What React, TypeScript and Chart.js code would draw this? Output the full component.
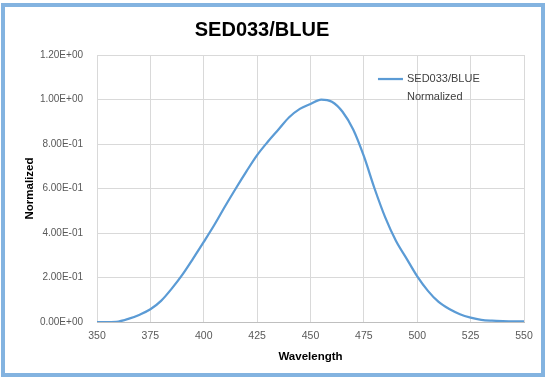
import React, { useEffect, useRef } from "react";
import { Chart, registerables } from "chart.js";

Chart.register(...registerables);

const chartTitle = "SED033/BLUE";
const xAxisTitle = "Wavelength";
const yAxisTitle = "Normalized";
const seriesLabel = ["SED033/BLUE", "Normalized"];

const wavelengths = [
  350, 355, 360, 365, 370, 375, 380, 385, 390, 395, 400, 405, 410, 415, 420,
  425, 430, 435, 440, 445, 450, 455, 460, 465, 470, 475, 480, 485, 490, 495,
  500, 505, 510, 515, 520, 525, 530, 535, 540, 545, 550,
];
const normalized = [
  0.0, 0.0, 0.002, 0.015, 0.033, 0.057, 0.095, 0.15, 0.213, 0.285, 0.36,
  0.437, 0.52, 0.6, 0.677, 0.75, 0.81, 0.865, 0.92, 0.958, 0.98, 1.0, 0.99,
  0.945, 0.865, 0.745, 0.6, 0.47, 0.365, 0.285, 0.205, 0.14, 0.09, 0.058,
  0.035, 0.02, 0.01, 0.006, 0.004, 0.003, 0.003,
];
const xMin = 350;
const xMax = 550;
const xStep = 25;
const yMin = 0;
const yMax = 1.2;
const yStep = 0.2;

const FONT = "'Liberation Sans', Arial, sans-serif";
const LINE_COLOR = "#5B9BD5";

function fmtExp(v: number): string {
  const s = Number(v).toExponential(2);
  const m = s.match(/^(-?\d\.\d+)e([+-])(\d+)$/);
  if (!m) return s;
  return `${m[1]}E${m[2]}${m[3].padStart(2, "0")}`;
}

export default function App() {
  const ref = useRef<HTMLCanvasElement>(null);

  useEffect(() => {
    if (!ref.current) return;
    const legendPlugin = {
      id: "excelLegend",
      afterDraw(chart: any) {
        const { ctx, chartArea: a } = chart;
        const w = a.right - a.left;
        const h = a.bottom - a.top;
        const x0 = a.left + w * 0.658;
        const y0 = a.top + h * 0.09;
        ctx.save();
        ctx.strokeStyle = LINE_COLOR;
        ctx.lineWidth = 2.25;
        ctx.beginPath();
        ctx.moveTo(x0, y0);
        ctx.lineTo(x0 + 25, y0);
        ctx.stroke();
        ctx.fillStyle = "#404040";
        ctx.font = `11px ${FONT}`;
        ctx.textBaseline = "middle";
        ctx.textAlign = "left";
        ctx.fillText(seriesLabel[0], x0 + 29, y0);
        ctx.fillText(seriesLabel[1], x0 + 29, y0 + 18);
        ctx.restore();
      },
    };

    const chart = new Chart(ref.current, {
      type: "line",
      data: {
        datasets: [
          {
            label: seriesLabel.join(" "),
            data: wavelengths.map((x, i) => ({ x, y: normalized[i] })),
            borderColor: LINE_COLOR,
            borderWidth: 2.25,
            pointRadius: 0,
            fill: false,
            tension: 0.4,
            cubicInterpolationMode: "monotone",
          },
        ],
      },
      options: {
        animation: false,
        responsive: false,
        maintainAspectRatio: false,
        layout: { padding: { left: 0, right: 25, top: 0, bottom: 0 } },
        plugins: {
          legend: { display: false },
          tooltip: { enabled: false },
          title: {
            display: true,
            text: chartTitle,
            color: "#000000",
            font: { family: FONT, size: 20, weight: "bold" },
            padding: { top: 18, bottom: 13 },
          },
        },
        scales: {
          x: {
            type: "linear",
            min: xMin,
            max: xMax,
            ticks: {
              stepSize: xStep,
              color: "#595959",
              font: { family: FONT, size: 10.5 },
              padding: 8,
              maxRotation: 0,
            },
            grid: { color: "#d9d9d9", drawTicks: false },
            border: { color: "#bfbfbf" },
            title: {
              display: true,
              text: xAxisTitle,
              color: "#000000",
              font: { family: FONT, size: 11.5, weight: "bold" },
              padding: { top: 0, bottom: 24 },
            },
            afterFit: (s: any) => {
              s.height = 66;
            },
          },
          y: {
            min: yMin,
            max: yMax,
            ticks: {
              stepSize: yStep,
              color: "#595959",
              font: { family: FONT, size: 10 },
              padding: 14,
              callback: (v: any) => fmtExp(Number(v)),
            },
            grid: { color: "#d9d9d9", drawTicks: false },
            border: { display: false },
            title: {
              display: true,
              text: yAxisTitle,
              color: "#000000",
              font: { family: FONT, size: 11.5, weight: "bold" },
              padding: { top: 23, bottom: 0 },
            },
            afterFit: (s: any) => {
              s.width = 97;
            },
          },
        },
      },
      plugins: [legendPlugin],
    } as any);

    return () => chart.destroy();
  }, []);

  return (
    <div
      style={{
        position: "absolute",
        left: 0,
        top: 0,
        width: 549,
        height: 388,
        background: "#ffffff",
        overflow: "hidden",
      }}
    >
      <canvas
        ref={ref}
        width={549}
        height={388}
        style={{ position: "absolute", left: 0, top: 0, width: 549, height: 388 }}
      />
      <div
        style={{
          position: "absolute",
          left: 1,
          top: 3,
          width: 544,
          height: 374,
          boxSizing: "border-box",
          border: "4px solid #83B3E0",
          pointerEvents: "none",
        }}
      />
    </div>
  );
}
